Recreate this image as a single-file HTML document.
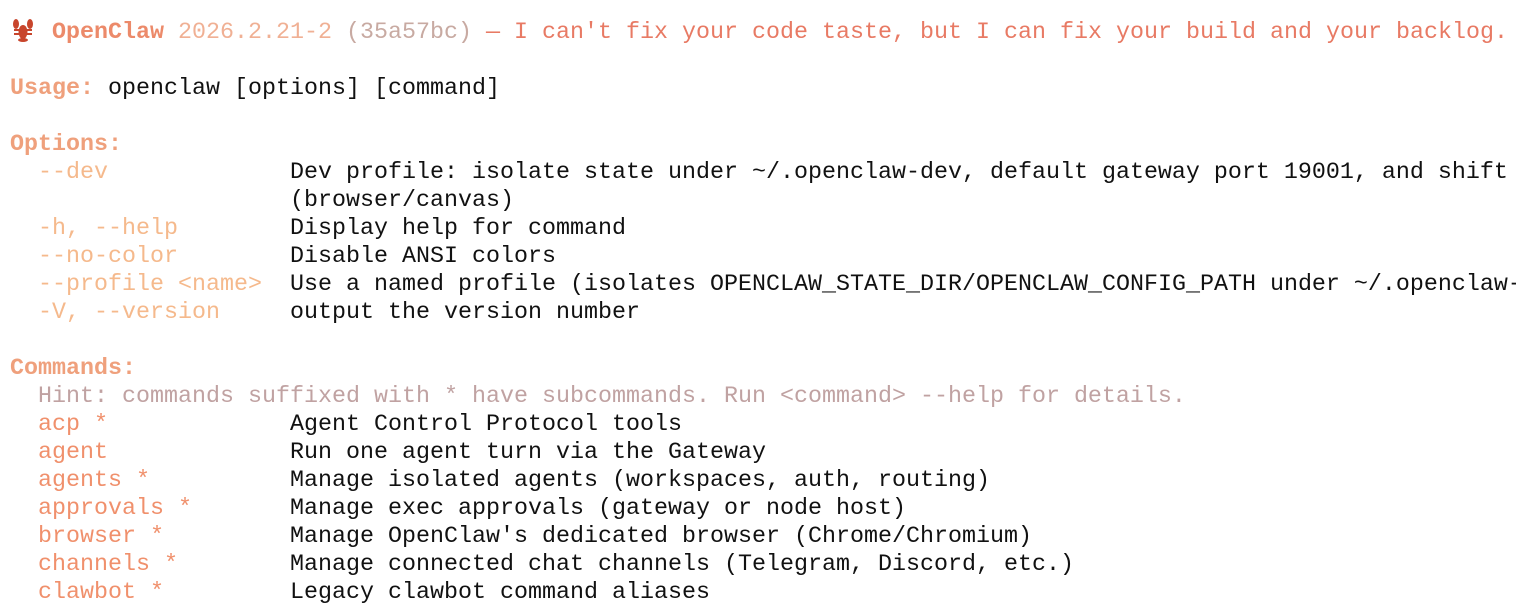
<!DOCTYPE html>
<html><head><meta charset="utf-8"><style>
html,body{margin:0;padding:0;background:#fff;width:1516px;height:606px;overflow:hidden}
.t{position:absolute;left:10px;top:19px;font-family:"Liberation Mono",monospace;font-size:23.33px;line-height:28px;white-space:pre;color:#111}
.oc{color:#ec8a6a;font-weight:bold}
.ver{color:#f0b094}
.hash{color:#c8aaa2}
.tag{color:#e87a64}
.h{color:#efa07c;font-weight:bold}
.o{color:#f5b98c}
.hint{color:#c0a2a2}
.c{color:#f0906c}
.lob{display:inline-block;width:28px;height:22px;vertical-align:-3px;position:relative}
</style></head><body>
<div class="t"><span class="lob"><svg width="26" height="26" viewBox="0 0 26 26" style="position:absolute;left:0;top:-2px"><g fill="#c8452c"><ellipse cx="13" cy="15" rx="4.5" ry="7"/><ellipse cx="6" cy="7" rx="3" ry="5"/><ellipse cx="20" cy="7" rx="3" ry="5"/><rect x="4" y="12" width="18" height="2"/><rect x="4" y="16" width="18" height="2"/><ellipse cx="13" cy="23" rx="5" ry="2"/></g></svg></span> <span class="oc">OpenClaw</span> <span class="ver">2026.2.21-2</span> <span class="hash">(35a57bc)</span> <span class="tag">— I can't fix your code taste, but I can fix your build and your backlog.</span>

<span class="h">Usage:</span> openclaw [options] [command]

<span class="h">Options:</span>
  <span class="o">--dev</span>             Dev profile: isolate state under ~/.openclaw-dev, default gateway port 19001, and shift
                    (browser/canvas)
  <span class="o">-h, --help</span>        Display help for command
  <span class="o">--no-color</span>        Disable ANSI colors
  <span class="o">--profile &lt;name&gt;</span>  Use a named profile (isolates OPENCLAW_STATE_DIR/OPENCLAW_CONFIG_PATH under ~/.openclaw-
  <span class="o">-V, --version</span>     output the version number

<span class="h">Commands:</span>
  <span class="hint">Hint: commands suffixed with * have subcommands. Run &lt;command&gt; --help for details.</span>
  <span class="c">acp *</span>             Agent Control Protocol tools
  <span class="c">agent</span>             Run one agent turn via the Gateway
  <span class="c">agents *</span>          Manage isolated agents (workspaces, auth, routing)
  <span class="c">approvals *</span>       Manage exec approvals (gateway or node host)
  <span class="c">browser *</span>         Manage OpenClaw's dedicated browser (Chrome/Chromium)
  <span class="c">channels *</span>        Manage connected chat channels (Telegram, Discord, etc.)
  <span class="c">clawbot *</span>         Legacy clawbot command aliases</div>
</body></html>
